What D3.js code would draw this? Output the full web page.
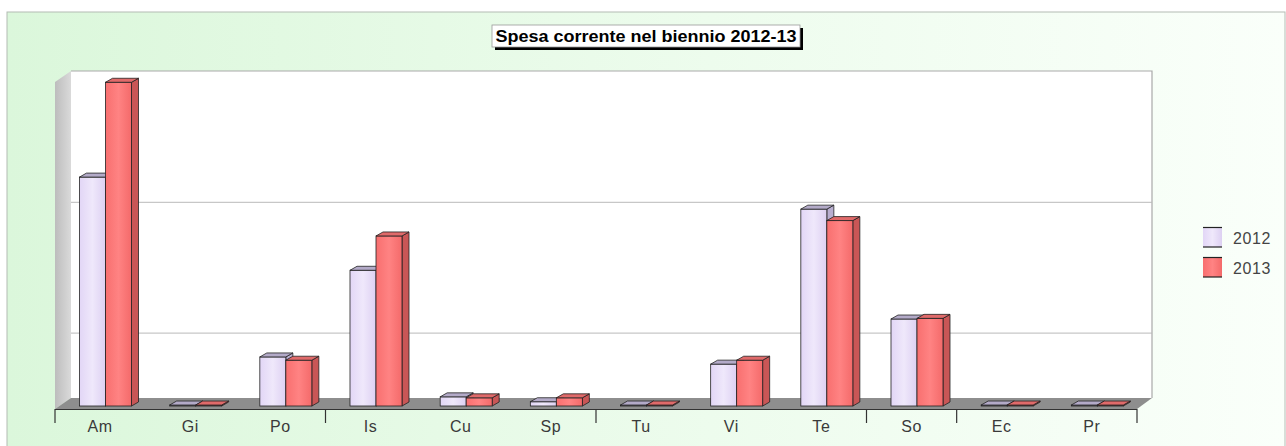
<!DOCTYPE html>
<html>
<head>
<meta charset="utf-8">
<script src="https://cdn.jsdelivr.net/npm/d3@7"></script>
<style>
  html, body { margin: 0; padding: 0; background: #ffffff; }
  svg { display: block; font-family: "Liberation Sans", Arial, sans-serif; }
</style>
</head>
<body>
<svg id="chart" width="1286" height="446"></svg>
<script>
// Spesa corrente per funzione, anni 2012 e 2013
const categories = ["Am", "Gi", "Po", "Is", "Cu", "Sp", "Tu", "Vi", "Te", "So", "Ec", "Pr"];
const series = ["2012", "2013"];
const values2012 = [7.0, 0.03, 1.5, 4.15, 0.28, 0.13, 0.03, 1.28, 6.02, 2.66, 0.03, 0.03];
const values2013 = [9.9, 0.03, 1.4, 5.2, 0.25, 0.25, 0.03, 1.4, 5.67, 2.68, 0.03, 0.03];
const gridValues = [2, 6];
const tickBoundaries = [0, 3, 6, 9, 10, 12];
const title = "Spesa corrente nel biennio 2012-13";

const svg = d3.select("#chart");
const defs = svg.append("defs");

// panel background
const bg = defs.append("linearGradient").attr("id", "bg").attr("x1", 0).attr("x2", 1).attr("y1", 0).attr("y2", 0);
bg.append("stop").attr("offset", 0).attr("stop-color", "#dbf7db");
bg.append("stop").attr("offset", 0.55).attr("stop-color", "#edfced");
bg.append("stop").attr("offset", 1).attr("stop-color", "#fafffa");

const g12 = defs.append("linearGradient").attr("id", "f2012").attr("x1", 0).attr("x2", 1);
g12.append("stop").attr("offset", 0).attr("stop-color", "#e2d6f6");
g12.append("stop").attr("offset", 0.5).attr("stop-color", "#efe8fb");
g12.append("stop").attr("offset", 1).attr("stop-color", "#ddd0f2");
const g13 = defs.append("linearGradient").attr("id", "f2013").attr("x1", 0).attr("x2", 1);
g13.append("stop").attr("offset", 0).attr("stop-color", "#f86f6f");
g13.append("stop").attr("offset", 0.5).attr("stop-color", "#ff8383");
g13.append("stop").attr("offset", 1).attr("stop-color", "#f46a6a");

const wallG = defs.append("linearGradient").attr("id", "wall").attr("x1", 0).attr("x2", 1);
wallG.append("stop").attr("offset", 0).attr("stop-color", "#bdbdbd");
wallG.append("stop").attr("offset", 1).attr("stop-color", "#dadada");

svg.append("rect").attr("x", 7).attr("y", 12).attr("width", 1278).attr("height", 440)
  .attr("fill", "url(#bg)").attr("stroke", "#b4bcb4").attr("stroke-width", 1);

// scales
const x = d3.scaleBand().domain(categories).range([55, 1137]);
const xs = d3.scaleBand().domain(series).range([24.5, 76.5]);
const yFront = d3.scaleLinear().domain([0, 10]).range([406, 79]);
const yBack = d3.scaleLinear().domain([0, 10]).range([398, 71]);

const depth = { dx: 16, dy: -11 };   // floor / walls
const barDepth = { dx: 7, dy: -4 };  // bar top & side faces

const wallLeft = 55 + depth.dx, wallRight = 1137 + 15, floorY = 409;

// back wall
svg.append("rect").attr("x", wallLeft).attr("y", yBack(10))
  .attr("width", wallRight - wallLeft).attr("height", yBack(0) - yBack(10))
  .attr("fill", "#ffffff");
svg.append("path")
  .attr("d", `M${wallLeft},${yBack(10)}H${wallRight}V${yBack(0)}`)
  .attr("fill", "none").attr("stroke", "#a9a9a9").attr("stroke-width", 1.2);

// gridlines
svg.selectAll("line.grid").data(gridValues).join("line").attr("class", "grid")
  .attr("x1", wallLeft).attr("x2", wallRight)
  .attr("y1", d => yBack(d) + 0.5).attr("y2", d => yBack(d) + 0.5)
  .attr("stroke", "#b9b9b9").attr("stroke-width", 1);

// left wall
svg.append("path")
  .attr("d", `M55,${floorY}V${yBack(10) - depth.dy}L${wallLeft},${yBack(10)}V${yBack(0)}Z`)
  .attr("fill", "url(#wall)");

// floor
svg.append("path")
  .attr("d", `M55,${floorY}L${wallLeft},${yBack(0)}H${wallRight}L1137,${floorY}Z`)
  .attr("fill", "#8e8e8e");

// bars
const data = [];
categories.forEach((c, i) => {
  data.push({ cat: c, s: "2012", v: values2012[i] });
  data.push({ cat: c, s: "2013", v: values2013[i] });
});
const colors = {
  "2012": { front: "url(#f2012)", top: "#b3aac8", side: "#b8aed0" },
  "2013": { front: "url(#f2013)", top: "#e06a6a", side: "#c95656" }
};
const bw = xs.bandwidth();
const bars = svg.append("g").selectAll("g").data(data).join("g");
bars.each(function (d) {
  const g = d3.select(this);
  const x0 = x(d.cat) + xs(d.s), x1 = x0 + bw;
  const y0 = yFront(0), y1 = yFront(d.v);
  const c = colors[d.s];
  // side face
  g.append("path")
    .attr("d", `M${x1},${y0}V${y1}l${barDepth.dx},${barDepth.dy}V${y0 + barDepth.dy}Z`)
    .attr("fill", c.side).attr("stroke", "#222").attr("stroke-width", 0.8);
  // front face
  g.append("rect").attr("x", x0).attr("y", y1).attr("width", bw).attr("height", y0 - y1)
    .attr("fill", c.front).attr("stroke", "#222").attr("stroke-width", 0.8);
  // top face
  g.append("path")
    .attr("d", `M${x0},${y1}l${barDepth.dx},${barDepth.dy}H${x1 + barDepth.dx}L${x1},${y1}Z`)
    .attr("fill", c.top).attr("stroke", "#222").attr("stroke-width", 0.8);
});

// category axis
svg.append("line").attr("x1", 55).attr("x2", 1137).attr("y1", floorY + 0.5).attr("y2", floorY + 0.5)
  .attr("stroke", "#333").attr("stroke-width", 1.2);
svg.selectAll("line.tick").data(tickBoundaries).join("line").attr("class", "tick")
  .attr("x1", d => 55 + d * x.step()).attr("x2", d => 55 + d * x.step())
  .attr("y1", floorY).attr("y2", floorY + 14)
  .attr("stroke", "#333").attr("stroke-width", 1.2);
svg.selectAll("text.cat").data(categories).join("text").attr("class", "cat")
  .attr("x", d => x(d) + x.bandwidth() / 2).attr("y", 432)
  .attr("text-anchor", "middle").attr("font-size", 16).attr("letter-spacing", 0.6).attr("fill", "#3a3a3a")
  .text(d => d);

// title box
const tb = { x: 492, y: 25, w: 308, h: 22 };
svg.append("rect").attr("x", tb.x + 3).attr("y", tb.y + 3).attr("width", tb.w).attr("height", tb.h).attr("fill", "#000");
svg.append("rect").attr("x", tb.x).attr("y", tb.y).attr("width", tb.w).attr("height", tb.h)
  .attr("fill", "#ffffff").attr("stroke", "#999").attr("stroke-width", 0.8);
svg.append("text").attr("x", tb.x + tb.w / 2).attr("y", tb.y + 17)
  .attr("text-anchor", "middle").attr("font-weight", "bold").attr("font-size", 16)
  .attr("textLength", 301).attr("lengthAdjust", "spacingAndGlyphs")
  .attr("fill", "#000").text(title);

// legend
const legend = svg.append("g").selectAll("g").data(series).join("g")
  .attr("transform", (d, i) => `translate(1203,${227 + i * 30})`);
legend.append("rect").attr("width", 19).attr("height", 20)
  .attr("fill", d => colors[d].front);
legend.append("line").attr("x1", 0).attr("x2", 19).attr("y1", 0.5).attr("y2", 0.5).attr("stroke", "#222").attr("stroke-width", 1.2);
legend.append("line").attr("x1", 0).attr("x2", 19).attr("y1", 20).attr("y2", 20).attr("stroke", "#222").attr("stroke-width", 1.2);
legend.append("text").attr("x", 30).attr("y", 17).attr("font-size", 16).attr("fill", "#444")
  .attr("letter-spacing", 0.6).text(d => d);
</script>
</body>
</html>
